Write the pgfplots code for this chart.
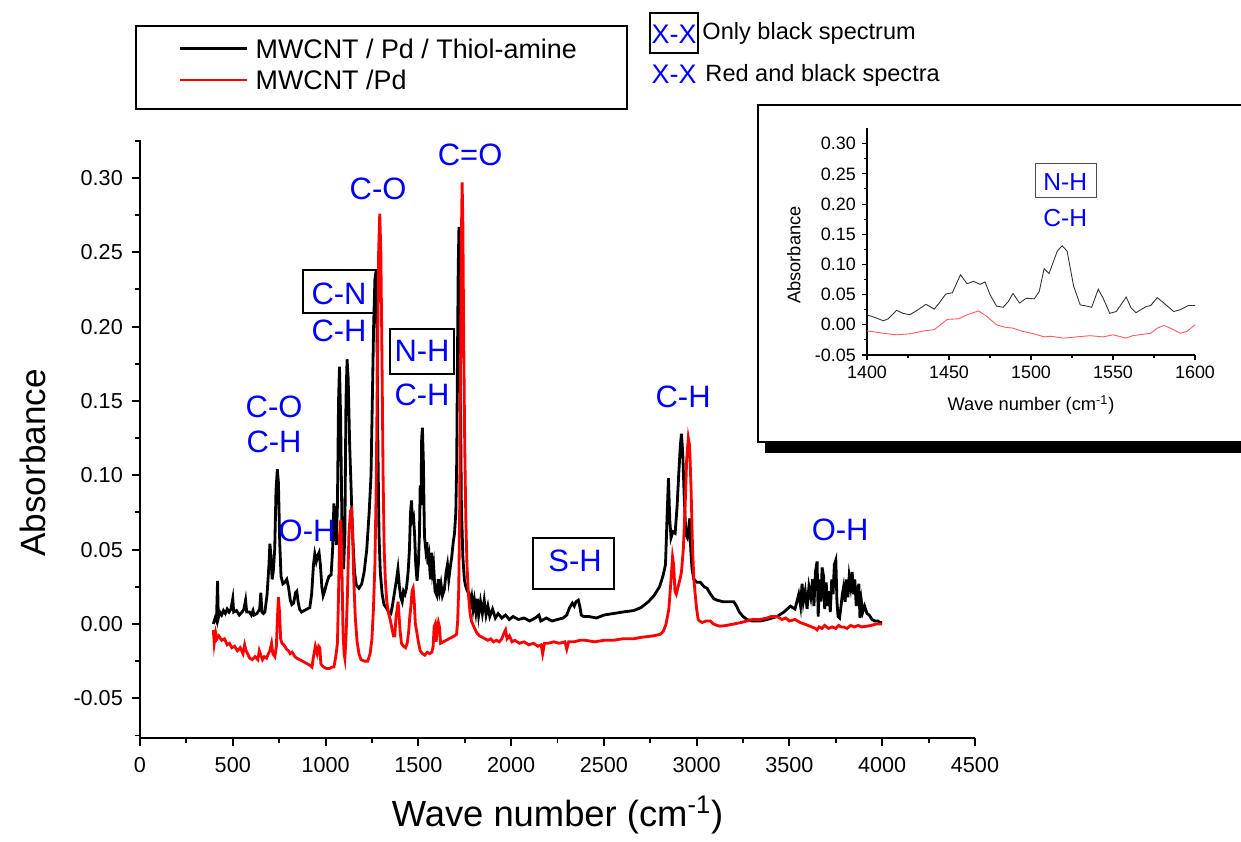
\documentclass[border=0pt]{standalone}
\usepackage{fontspec}
\setmainfont{Liberation Sans}
\usepackage{pgfplots}
\pgfplotsset{compat=1.18}
\definecolor{lblue}{HTML}{0000FF}
\definecolor{lred}{HTML}{FF0000}

\pgfplotstableread{
x y
395 0.000
405 0.004
412 0.002
418 0.029
422 0.004
430 0.008
440 0.006
450 0.009
460 0.007
470 0.010
480 0.008
490 0.010
500 0.017
505 0.008
520 0.009
535 0.006
550 0.008
560 0.010
569 0.016
575 0.008
590 0.008
600 0.006
609 0.009
615 0.006
630 0.007
645 0.010
651 0.021
657 0.008
665 0.007
673 0.008
685 0.020
695 0.040
700 0.054
706 0.045
712 0.030
718 0.035
726 0.050
733 0.090
740 0.104
746 0.095
753 0.055
760 0.032
770 0.027
780 0.028
791 0.030
800 0.025
810 0.016
818 0.013
828 0.014
838 0.021
845 0.022
852 0.015
860 0.010
870 0.008
885 0.009
900 0.010
915 0.011
925 0.020
935 0.040
942 0.047
950 0.042
958 0.046
965 0.048
972 0.040
980 0.025
987 0.019
995 0.022
1005 0.027
1018 0.032
1030 0.033
1038 0.050
1045 0.081
1052 0.070
1058 0.053
1064 0.080
1070 0.150
1075 0.173
1081 0.140
1089 0.060
1097 0.037
1104 0.060
1110 0.150
1116 0.178
1122 0.165
1130 0.120
1138 0.090
1146 0.060
1156 0.035
1166 0.026
1180 0.024
1195 0.027
1208 0.035
1222 0.050
1235 0.075
1245 0.100
1252 0.150
1259 0.200
1266 0.232
1272 0.237
1277 0.200
1282 0.120
1288 0.060
1295 0.035
1305 0.020
1315 0.013
1327 0.011
1340 0.008
1352 0.007
1360 0.012
1370 0.020
1380 0.028
1390 0.037
1398 0.025
1405 0.018
1413 0.015
1420 0.022
1428 0.020
1436 0.024
1445 0.035
1452 0.050
1458 0.075
1463 0.083
1468 0.070
1474 0.072
1480 0.060
1486 0.040
1493 0.029
1500 0.040
1506 0.060
1510 0.093
1514 0.080
1518 0.125
1522 0.132
1527 0.110
1533 0.059
1540 0.050
1546 0.055
1552 0.040
1558 0.045
1565 0.030
1570 0.048
1576 0.035
1582 0.040
1590 0.022
1600 0.019
1608 0.030
1615 0.022
1622 0.027
1630 0.019
1640 0.023
1650 0.035
1657 0.040
1664 0.030
1672 0.038
1680 0.045
1688 0.055
1695 0.061
1702 0.075
1707 0.110
1711 0.180
1715 0.240
1719 0.267
1723 0.230
1727 0.150
1732 0.080
1740 0.045
1748 0.030
1756 0.025
1764 0.022
1773 0.021
1780 0.012
1788 0.018
1795 0.010
1802 0.016
1810 0.008
1818 0.017
1825 0.006
1835 0.015
1845 0.007
1855 0.016
1865 0.006
1875 0.012
1885 0.005
1900 0.010
1915 0.004
1930 0.007
1950 0.004
1970 0.006
1990 0.003
2010 0.005
2040 0.003
2070 0.004
2100 0.002
2130 0.004
2150 0.006
2160 0.002
2190 0.004
2220 0.002
2250 0.003
2280 0.004
2300 0.006
2315 0.011
2330 0.014
2340 0.012
2350 0.015
2362 0.016
2370 0.012
2378 0.006
2390 0.005
2420 0.005
2460 0.004
2500 0.006
2550 0.007
2600 0.008
2660 0.009
2700 0.011
2740 0.015
2770 0.019
2800 0.025
2820 0.033
2832 0.040
2840 0.070
2848 0.098
2855 0.070
2862 0.058
2872 0.062
2884 0.061
2895 0.080
2903 0.100
2912 0.120
2918 0.128
2925 0.115
2933 0.085
2942 0.060
2950 0.058
2958 0.066
2963 0.071
2968 0.050
2975 0.037
2985 0.030
3002 0.028
3020 0.028
3040 0.025
3056 0.024
3075 0.020
3092 0.017
3110 0.016
3140 0.015
3170 0.015
3200 0.015
3215 0.012
3230 0.008
3250 0.005
3272 0.003
3300 0.002
3343 0.002
3380 0.003
3433 0.005
3470 0.008
3505 0.012
3530 0.010
3550 0.020
3560 0.012
3568 0.027
3575 0.015
3585 0.022
3595 0.010
3605 0.025
3615 0.018
3625 0.030
3632 0.012
3640 0.035
3649 0.042
3655 0.005
3662 0.030
3670 0.015
3676 0.038
3684 0.032
3690 0.010
3698 0.028
3705 0.012
3712 0.022
3720 0.008
3728 0.030
3735 0.020
3742 0.040
3750 0.043
3756 0.015
3762 0.005
3770 0.004
3778 0.012
3785 0.020
3792 0.025
3800 0.015
3808 0.030
3815 0.018
3822 0.032
3830 0.025
3838 0.035
3845 0.020
3852 0.030
3860 0.012
3868 0.022
3874 0.027
3880 0.004
3888 0.015
3895 0.008
3905 0.012
3918 0.007
3930 0.006
3945 0.003
3960 0.002
3975 0.002
3990 0.001
4000 0.001
}\blackspec

\pgfplotstableread{
x y
395 -0.004
400 -0.013
408 -0.006
415 -0.010
425 -0.008
440 -0.011
455 -0.010
470 -0.014
482 -0.013
495 -0.016
510 -0.015
525 -0.018
540 -0.016
555 -0.020
564 -0.014
572 -0.018
580 -0.020
591 -0.023
605 -0.024
620 -0.022
635 -0.024
643 -0.018
651 -0.021
660 -0.024
670 -0.022
682 -0.023
692 -0.020
700 -0.018
709 -0.013
716 -0.020
727 -0.022
735 -0.015
741 0.005
746 0.018
752 0.008
758 -0.010
765 -0.013
775 -0.014
790 -0.017
800 -0.018
809 -0.020
820 -0.019
835 -0.022
845 -0.023
860 -0.024
875 -0.025
890 -0.026
905 -0.027
918 -0.028
927 -0.029
935 -0.022
945 -0.015
955 -0.020
963 -0.015
969 -0.016
975 -0.027
990 -0.029
1005 -0.030
1020 -0.030
1035 -0.029
1045 -0.029
1055 -0.022
1064 -0.013
1070 0.020
1076 0.060
1082 0.070
1088 0.040
1094 -0.005
1100 -0.020
1104 -0.023
1110 -0.010
1118 0.020
1126 0.060
1134 0.076
1140 0.077
1146 0.060
1152 0.030
1160 0.005
1170 -0.012
1180 -0.020
1191 -0.024
1210 -0.025
1227 -0.025
1240 -0.020
1250 -0.010
1258 0.010
1266 0.040
1273 0.093
1280 0.180
1286 0.250
1292 0.276
1298 0.250
1304 0.180
1310 0.100
1316 0.050
1322 0.030
1330 0.015
1340 0.007
1348 0.003
1358 -0.003
1366 -0.008
1373 -0.008
1380 0.005
1386 0.010
1391 0.015
1397 0.004
1402 -0.005
1409 -0.013
1420 -0.015
1431 -0.016
1440 -0.013
1448 -0.005
1454 0.005
1460 0.012
1466 0.022
1472 0.024
1478 0.015
1484 0.000
1491 -0.005
1500 -0.012
1510 -0.018
1522 -0.020
1535 -0.021
1548 -0.019
1560 -0.020
1573 -0.019
1580 -0.015
1585 -0.002
1591 0.000
1596 -0.012
1602 -0.004
1608 0.001
1614 -0.002
1620 -0.013
1635 -0.012
1650 -0.011
1665 -0.010
1680 -0.009
1695 -0.008
1706 -0.007
1712 0.002
1718 0.025
1723 0.080
1728 0.180
1732 0.260
1736 0.297
1740 0.270
1744 0.200
1750 0.120
1756 0.070
1762 0.040
1770 0.020
1778 0.008
1786 0.002
1800 -0.002
1815 -0.006
1830 -0.008
1845 -0.009
1860 -0.010
1875 -0.011
1890 -0.010
1905 -0.012
1920 -0.011
1936 -0.012
1950 -0.010
1962 -0.006
1970 -0.004
1978 -0.010
1991 -0.008
2005 -0.012
2020 -0.011
2045 -0.013
2070 -0.012
2095 -0.014
2120 -0.013
2145 -0.015
2162 -0.014
2170 -0.020
2180 -0.013
2200 -0.013
2230 -0.012
2260 -0.013
2290 -0.012
2300 -0.017
2310 -0.012
2340 -0.012
2370 -0.011
2400 -0.011
2450 -0.012
2500 -0.011
2550 -0.011
2600 -0.010
2659 -0.010
2700 -0.009
2767 -0.008
2803 -0.007
2820 -0.005
2835 0.000
2850 0.010
2862 0.030
2870 0.045
2876 0.040
2883 0.022
2890 0.020
2900 0.025
2910 0.030
2918 0.035
2928 0.050
2938 0.080
2946 0.110
2955 0.125
2962 0.120
2970 0.090
2978 0.050
2985 0.030
2992 0.020
3000 0.010
3008 0.003
3015 0.002
3030 0.001
3050 0.002
3073 0.002
3090 0.000
3110 -0.001
3127 -0.0015
3160 -0.001
3200 0.000
3240 0.001
3271 0.002
3300 0.003
3340 0.003
3380 0.004
3400 0.005
3433 0.005
3460 0.003
3480 0.004
3500 0.002
3530 0.003
3558 0.001
3580 0.000
3600 -0.001
3620 -0.002
3640 -0.003
3649 -0.004
3660 -0.002
3675 -0.003
3690 -0.001
3710 -0.003
3730 -0.002
3750 -0.003
3765 -0.001
3780 -0.002
3792 -0.002
3810 -0.003
3830 -0.001
3850 -0.002
3870 -0.001
3890 -0.002
3918 -0.0015
3940 -0.001
3968 0.000
4000 0.000
}\redspec

\pgfplotstableread{
x y
1400 0.0166
1405 0.012
1410 0.0066
1413 0.010
1418 0.024
1422 0.019
1426 0.0166
1430 0.023
1436 0.034
1441 0.026
1444 0.036
1448 0.051
1452 0.053
1457 0.083
1461 0.068
1465 0.072
1469 0.067
1472 0.071
1475 0.050
1479 0.031
1483 0.029
1486 0.038
1489 0.052
1493 0.036
1497 0.044
1502 0.043
1505 0.055
1508 0.093
1511 0.085
1516 0.122
1519 0.131
1522 0.122
1526 0.064
1530 0.033
1534 0.031
1537 0.029
1541 0.059
1544 0.044
1548 0.019
1552 0.022
1558 0.046
1561 0.028
1564 0.020
1570 0.030
1573 0.032
1577 0.045
1581 0.036
1587 0.022
1591 0.025
1596 0.032
1600 0.032
}\blackinset

\pgfplotstableread{
x y
1400 -0.010
1410 -0.014
1418 -0.0166
1426 -0.015
1435 -0.010
1441 -0.008
1449 0.009
1456 0.010
1461 0.0166
1468 0.023
1473 0.014
1479 0.000
1484 -0.004
1489 -0.0055
1495 -0.011
1502 -0.015
1508 -0.020
1512 -0.019
1520 -0.022
1528 -0.020
1536 -0.018
1544 -0.020
1550 -0.0166
1558 -0.022
1562 -0.018
1573 -0.014
1577 -0.0055
1581 -0.001
1585 -0.0055
1591 -0.014
1595 -0.011
1600 0.000
}\redinset

\begin{document}
\begin{tikzpicture}
\begin{axis}[
  at={(2.8cm,-14.76cm)}, anchor=south west,
  width=16.7cm, height=11.96cm, scale only axis,
  xmin=0, xmax=4500, ymin=-0.0767, ymax=0.3255,
  axis x line*=bottom, axis y line*=left,
  axis line style={line width=1.1pt,-},
  xtick={0,500,...,4500}, minor x tick num=1,
  ytick={-0.05,0,0.05,0.1,0.15,0.2,0.25,0.3},
  minor ytick={-0.075,-0.025,0.025,0.075,0.125,0.175,0.225,0.275,0.325},
  tick align=outside,
  major tick length=0.16cm, minor tick length=0.1cm,
  every tick/.style={line width=1.1pt,black},
  tick label style={font=\fontsize{12.3}{14}\selectfont},
  /pgf/number format/assume math mode=true,
  xticklabel style={yshift=-0.1cm,/pgf/number format/.cd,fixed,1000 sep={}},
  yticklabel style={xshift=-0.06cm,/pgf/number format/.cd,fixed,fixed zerofill,precision=2},
  scaled ticks=false,
  xlabel={Wave number (cm\textsuperscript{-1})},
  ylabel={Absorbance},
  label style={font=\fontsize{20}{24}\selectfont},
  xlabel style={font=\fontsize{20.7}{24}\selectfont,at={(axis description cs:0.5,-0.129)},anchor=center},
  ylabel style={at={(axis description cs:-0.128,0.46)},anchor=center},
  legend style={at={(-0.006,1.1923)}, anchor=north west, draw=black, line width=0.9pt,
    font=\fontsize{15.3}{17}\selectfont, inner xsep=0.86cm, inner ysep=0.36cm,
    row sep=0.3cm, cells={anchor=west},
    nodes={inner xsep=4pt, inner ysep=0pt, text height=0.85em, text depth=0.07em}},
  legend image code/.code={\draw[#1,line width=1.6pt] (0cm,0.06cm) -- (1.34cm,0.06cm);},
]
\addplot[black, line width=1.6pt] table {\blackspec};
\addlegendentry{MWCNT / Pd / Thiol-amine}
\addplot[lred, line width=1.6pt] table {\redspec};
\addlegendentry{MWCNT /Pd}
\end{axis}

% inset frame and shadow
\fill[black] (15.3,-8.86) rectangle (25.6,-9.06);
\filldraw[fill=white, draw=black, line width=1pt] (15.16,-2.1) rectangle (25.5,-8.84);

\begin{axis}[
  at={(17.34cm,-7.10cm)}, anchor=south west,
  width=6.56cm, height=4.54cm, scale only axis,
  xmin=1400, xmax=1600, ymin=-0.05, ymax=0.326,
  axis x line*=bottom, axis y line*=left,
  axis line style={line width=0.6pt,-},
  xtick={1400,1450,...,1600}, minor x tick num=1,
  ytick={-0.05,0,0.05,0.1,0.15,0.2,0.25,0.3}, minor y tick num=1,
  tick align=outside,
  major tick length=0.1cm, minor tick length=0.06cm,
  every tick/.style={line width=0.6pt,black},
  tick label style={font=\fontsize{10.2}{12}\selectfont},
  /pgf/number format/assume math mode=true,
  xticklabel style={/pgf/number format/.cd,fixed,1000 sep={}},
  yticklabel style={/pgf/number format/.cd,fixed,fixed zerofill,precision=2},
  scaled ticks=false,
  xlabel={Wave number (cm\textsuperscript{-1})},
  ylabel={Absorbance},
  label style={font=\fontsize{10.4}{12}\selectfont},
  xlabel style={at={(axis description cs:0.5,-0.22)},anchor=center},
  ylabel style={at={(axis description cs:-0.223,0.44)},anchor=center},
]
\addplot[black!80, line width=0.5pt] table {\blackinset};
\addplot[lred!65, line width=0.5pt] table {\redinset};
\end{axis}

\begin{scope}[x=0.02cm, y=-0.02cm]
  % key at top right
  \draw[line width=0.8pt] (650,13) rectangle (698,53);
  \node[lblue, font=\fontsize{15.3}{18}\selectfont, anchor=base, inner sep=0pt] at (674,43) {X-X};
  \node[font=\fontsize{13.4}{16}\selectfont, anchor=base west, inner sep=0pt] at (702,39.5) {Only black spectrum};
  \node[lblue, font=\fontsize{15.3}{18}\selectfont, anchor=base, inner sep=0pt] at (674,83) {X-X};
  \node[font=\fontsize{13.4}{16}\selectfont, anchor=base west, inner sep=0pt] at (705,81.5) {Red and black spectra};

  % band labels
  \begin{scope}[every node/.style={lblue, font=\fontsize{17.6}{20}\selectfont, anchor=base, inner sep=0pt}]
    \node at (274,417) {C-O};
    \node at (274,452) {C-H};
    \node at (307,541) {O-H};
    \node at (339,304) {C-N};
    \node at (339,341) {C-H};
    \node at (422,361) {N-H};
    \node at (422,405) {C-H};
    \node at (378,199) {C-O};
    \node at (470,165) {C=O};
    \node at (575,571) {S-H};
    \node at (683,407) {C-H};
    \node at (840,540) {O-H};
  \end{scope}
  \draw[line width=0.8pt] (303,270) rectangle (376,313);
  \draw[line width=0.8pt] (390,329) rectangle (454,374);
  \draw[line width=0.8pt] (533,538) rectangle (614,589);

  % inset labels
  \draw[line width=0.6pt, black!70] (1035,163) rectangle (1096,197);
  \node[lblue, font=\fontsize{14}{16}\selectfont, anchor=base, inner sep=0pt] at (1065,190) {N-H};
  \node[lblue, font=\fontsize{14}{16}\selectfont, anchor=base, inner sep=0pt] at (1065,226) {C-H};
\end{scope}

\pgfresetboundingbox
\useasboundingbox (0,0) rectangle (24.82,-16.84);
\end{tikzpicture}
\end{document}
